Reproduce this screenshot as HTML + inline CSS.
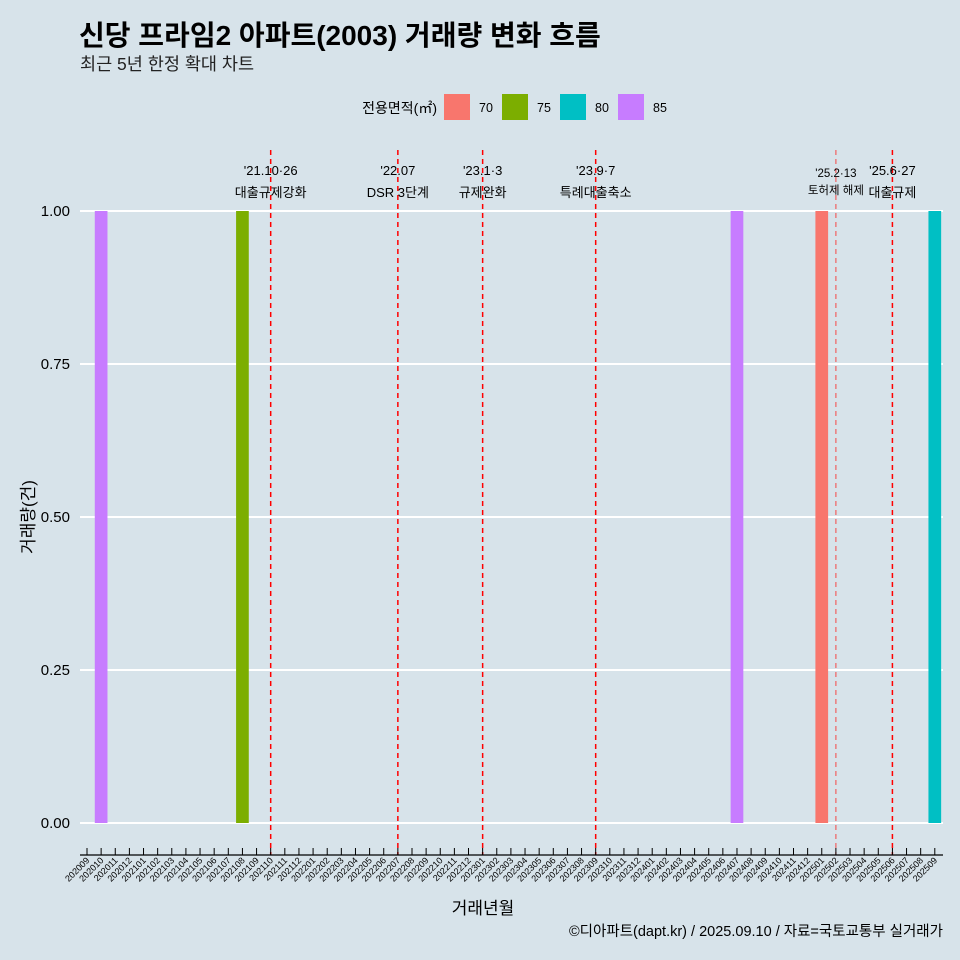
<!DOCTYPE html>
<html><head><meta charset="utf-8">
<style>
body{margin:0;background:#d7e3ea;}
svg{display:block;font-family:"Liberation Sans","Noto Sans CJK KR",sans-serif;}
</style></head>
<body>
<svg id="chart" width="960" height="960" xmlns="http://www.w3.org/2000/svg">
<rect width="960" height="960" fill="#d7e3ea"/>
<text x="79" y="45" font-size="28" font-weight="bold" fill="#000">신당 프라임2 아파트(2003) 거래량 변화 흐름</text>
<text x="80" y="70" font-size="17.5" fill="#222">최근 5년 한정 확대 차트</text>
<g>
<text x="437" y="113" font-size="14" text-anchor="end">전용면적(㎡)</text>
<g id="legend-items"></g>
</g>
<g id="grid"></g>
<g id="bars"></g>
<g id="events"></g>
<g id="xaxis"></g>
<g id="yaxis"></g>
<text transform="translate(34,517) rotate(-90)" font-size="17" text-anchor="middle">거래량(건)</text>
<text x="483" y="914" font-size="17" text-anchor="middle">거래년월</text>
<text x="943" y="936" font-size="14.5" text-anchor="end">©디아파트(dapt.kr) / 2025.09.10 / 자료=국토교통부 실거래가</text>
</svg>
<script>
const categories = [];
for (let y = 2020; y <= 2025; y++) for (let m = 1; m <= 12; m++) {
  const k = y * 100 + m;
  if (k >= 202009 && k <= 202509) categories.push(String(k));
}
const barMonths = ["202010", "202108", "202407", "202501", "202509"];
const barValues = [1, 1, 1, 1, 1];
const barAreas = ["85", "75", "85", "70", "80"];
const areaNames = ["70", "75", "80", "85"];
const areaColors = ["#f8766d", "#7cae00", "#00bfc4", "#c77cff"];
const yTicks = [0, 0.25, 0.5, 0.75, 1];
const yTickLabels = ["0.00", "0.25", "0.50", "0.75", "1.00"];
const eventMonths = ["202110", "202207", "202301", "202309", "202502", "202506"];
const eventDates = ["'21.10·26", "'22.07", "'23.1·3", "'23.9·7", "'25.2·13", "'25.6·27"];
const eventNames = ["대출규제강화", "DSR 3단계", "규제완화", "특례대출축소", "토허제 해제", "대출규제"];

const NS = "http://www.w3.org/2000/svg";
function el(tag, attrs, parent, text) {
  const e = document.createElementNS(NS, tag);
  for (const k in attrs) e.setAttribute(k, attrs[k]);
  if (text !== undefined) e.textContent = text;
  parent.appendChild(e);
  return e;
}
const x0 = 87, step = 14.13;
const xScale = c => x0 + categories.indexOf(c) * step;
const yScale = v => 823 - v * 612;

const grid = document.getElementById('grid');
yTicks.forEach((t, i) => {
  const l = el('line', {x1: 80, x2: 943, y1: yScale(t), y2: yScale(t), stroke: '#fff', 'stroke-width': 2}, grid);
  
  
});
const yax = document.getElementById('yaxis');
yTicks.forEach((t, i) => {
  const tx = el('text', {x: 70, y: yScale(t) + 5, 'font-size': 15, 'text-anchor': 'end'}, yax, yTickLabels[i]);
  
  
});

const bars = document.getElementById('bars');
barMonths.forEach((m, i) => {
  const cx = xScale(m), w = 12.7;
  const r = el('rect', {x: cx - w / 2, y: yScale(barValues[i]), width: w, height: yScale(0) - yScale(barValues[i]),
    fill: areaColors[areaNames.indexOf(barAreas[i])]}, bars);
  
  
});

const ev = document.getElementById('events');
eventMonths.forEach((m, i) => {
  const cx = xScale(m);
  const faint = m === "202502";
  const l = el('line', {x1: cx, x2: cx, y1: 150, y2: 855, stroke: faint ? '#f06060' : '#ff0000',
    'stroke-width': faint ? 1.2 : 1.5, 'stroke-dasharray': '5,4'}, ev);
  
  
  const fs = faint ? 11.5 : 13;
  const t1 = el('text', {x: cx, y: faint ? 177 : 175, 'font-size': fs, 'text-anchor': 'middle'}, ev, eventDates[i]);
  
  
  const t2 = el('text', {x: cx, y: faint ? 194 : 197, 'font-size': fs, 'text-anchor': 'middle'}, ev, eventNames[i]);
  
  
});

const xax = document.getElementById('xaxis');
const axl = el('line', {x1: 80, x2: 943, y1: 855, y2: 855, stroke: '#000', 'stroke-width': 1.2}, xax);


categories.forEach(c => {
  const x = xScale(c);
  const tk = el('line', {x1: x, x2: x, y1: 848, y2: 855, stroke: '#000', 'stroke-width': 1}, xax);
  
  
  const tx = el('text', {x: x + 3, y: 861, 'font-size': 9, 'text-anchor': 'end',
    transform: `rotate(-45 ${x + 3} 861)`}, xax, c);
  
  
});

const leg = document.getElementById('legend-items');
const legX = [444, 502, 560, 618];
areaNames.forEach((a, i) => {
  const r = el('rect', {x: legX[i], y: 94, width: 26, height: 26, fill: areaColors[i]}, leg);
  
  
  const t = el('text', {x: legX[i] + 35, y: 112, 'font-size': 12.5}, leg, a);
  
  
});
</script>
</body></html>
